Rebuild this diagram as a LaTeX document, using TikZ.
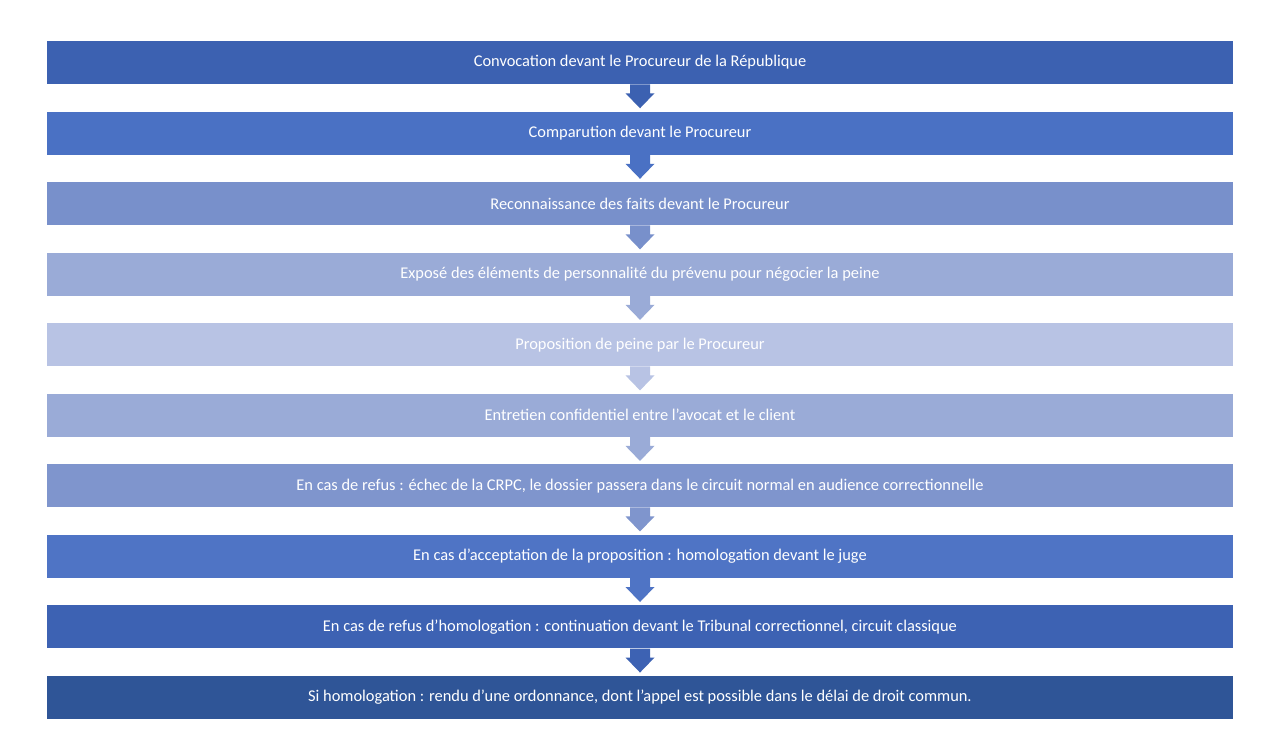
\documentclass[tikz,border=0pt]{standalone}
\usepackage{fontspec}
\setmainfont{Carlito}
\usetikzlibrary{positioning, calc}
\definecolor{StepA}{HTML}{3C61B1}
\definecolor{StepB}{HTML}{4A71C4}
\definecolor{StepC}{HTML}{7890CB}
\definecolor{StepD}{HTML}{9AABD7}
\definecolor{StepE}{HTML}{B8C3E4}
\definecolor{StepF}{HTML}{9AABD7}
\definecolor{StepG}{HTML}{7F95CD}
\definecolor{StepH}{HTML}{4F74C5}
\definecolor{StepI}{HTML}{3D62B3}
\definecolor{StepJ}{HTML}{2F5597}

\begin{document}
\begin{tikzpicture}[
    x=0.75pt, y=-0.75pt,
    node distance=27*0.75pt,
    stage/.style={rectangle, minimum width=1186*0.75pt, minimum height=43*0.75pt,
                 inner sep=0pt, text=white, font=\fontsize{12.3}{14}\selectfont}
]
    % Background
    \fill[white] (0,0) rectangle (1280,753);

    % Stages
    \node[stage, fill=StepA] at (640,62.5) (convoc) {Convocation devant le Procureur de la République};
    \node[stage, fill=StepB, below=of convoc] (comparution) {Comparution devant le Procureur};
    \node[stage, fill=StepC, below=of comparution] (reconnaissance) {Reconnaissance des faits devant le Procureur};
    \node[stage, fill=StepD, below=of reconnaissance] (expose) {Exposé des éléments de personnalité du prévenu pour négocier la peine};
    \node[stage, fill=StepE, below=of expose] (proposition) {Proposition de peine par le Procureur};
    \node[stage, fill=StepF, below=of proposition] (entretien) {Entretien confidentiel entre l'avocat et le client};
    \node[stage, fill=StepG, below=of entretien] (refus) {En cas de refus : échec de la CRPC, le dossier passera dans le circuit normal en audience correctionnelle};
    \node[stage, fill=StepH, below=of refus] (acceptation) {En cas d'acceptation de la proposition : homologation devant le juge};
    \node[stage, fill=StepI, below=of acceptation] (refushomol) {En cas de refus d'homologation : continuation devant le Tribunal correctionnel, circuit classique};
    \node[stage, fill=StepJ, below=of refushomol] (homologation) {Si homologation : rendu d'une ordonnance, dont l'appel est possible dans le délai de droit commun.};

    % Block arrows
    \foreach \a/\b/\c in {convoc/comparution/StepA, comparution/reconnaissance/StepB,
                          reconnaissance/expose/StepC, expose/proposition/StepD,
                          proposition/entretien/StepE, entretien/refus/StepF,
                          refus/acceptation/StepG, acceptation/refushomol/StepH,
                          refushomol/homologation/StepI} {
        \fill[\c] ($(\a.south)+(-10,0)$) -- ($(\a.south)+(10,0)$) -- ($(\a.south)+(10,9)$)
            -- ($(\a.south)+(14.5,9)$) -- ($(\b.north)+(0,-3)$) -- ($(\a.south)+(-14.5,9)$)
            -- ($(\a.south)+(-10,9)$) -- cycle;
    }
\end{tikzpicture}
\end{document}
